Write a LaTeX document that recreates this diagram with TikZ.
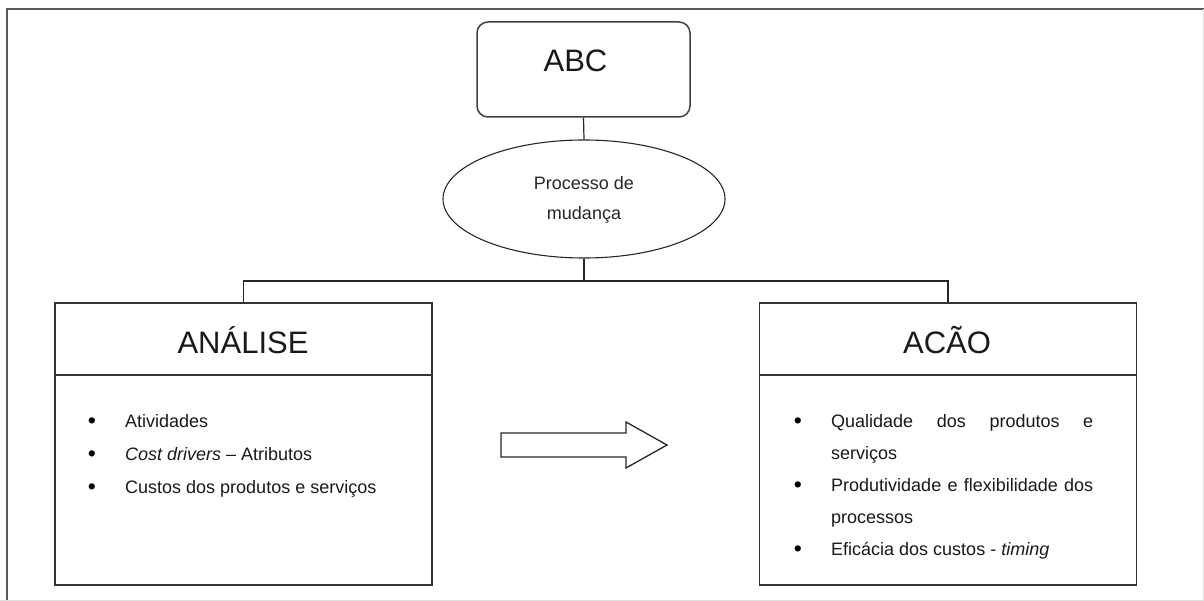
\documentclass[tikz,border=0pt]{standalone}
\usepackage{fontspec}
\setmainfont{Liberation Sans}
\usetikzlibrary{shapes.geometric}
\begin{document}
\begin{tikzpicture}[x=1pt,y=-1pt,
  box/.style={draw=black!80,line width=1.6pt,minimum width=377pt,minimum height=282pt,inner sep=0pt},
  conn/.style={draw=black!85,line width=1.2pt},
  item/.style={anchor=base west,inner sep=0pt,font=\fontsize{18}{22}\selectfont,text=black!90},
  bul/.style={anchor=base,inner sep=0pt,font=\fontsize{23}{22}\selectfont},
  title/.style={anchor=base,inner sep=0pt,font=\fontsize{31}{36}\selectfont,text=black!90}]
\useasboundingbox (0,0) rectangle (1204,601);
% outer frame
\draw[black!65,line width=2.2pt] (7,601) -- (7,9) -- (1204,9);
\draw[black!12,line width=1pt] (0,600) -- (1204,600);
\draw[black!12,line width=1pt] (1203,9) -- (1203,600);
% ABC
\node[draw=black!75,line width=1.5pt,rounded corners=11pt,minimum width=213pt,minimum height=95pt,inner sep=0pt] (abc) at (583.5,69.5) {};
\node[title] (abct) at (575.5,72) {ABC};
% ellipse
\node[draw=black!85,line width=1.1pt,ellipse,minimum width=282pt,minimum height=118pt,inner sep=0pt] (proc) at (584,199) {};
\node[anchor=base,inner sep=0pt,font=\fontsize{18}{30}\selectfont,align=center,text=black!85] (proct) at (584,220) {Processo de\\mudança};
% boxes
\node[box] (analise) at (243.5,444) {};
\node[box] (acao) at (948,444) {};
\draw[black!80,line width=1.6pt] (analise.west |- 0,375) -- (analise.east |- 0,375);
\draw[black!80,line width=1.6pt] (acao.west |- 0,375) -- (acao.east |- 0,375);
\node[title] (analiset) at (243,353) {ANÁLISE};
\node[title] (acaot) at (947,353) {ACÃO};
% connectors
\coordinate (hb) at (584,281);
\draw[conn] (abc.south) -- (proc.north);
\draw[conn] (proc.south) -- (hb);
\draw[conn] (analise.north) |- (hb) -| (acao.north);
% left items
\node[bul] (lb1) at (92,428) {•};
\node[bul] (lb2) at (92,461) {•};
\node[bul] (lb3) at (92,494) {•};
\node[item] (l1) at (125,427) {Atividades};
\node[item] (l2) at (125,460) {\textit{Cost drivers} – Atributos};
\node[item] (l3) at (125,493) {Custos dos produtos e serviços};
% right items
\node[bul] (rb1) at (798,428) {•};
\node[bul] (rb2) at (798,492) {•};
\node[bul] (rb3) at (798,556) {•};
\node[item] (r1) at (831,427) {\makebox[262pt][s]{Qualidade\hfill dos\hfill produtos\hfill e}};
\node[item] (r1b) at (831,459) {serviços};
\node[item] (r2) at (831,491) {\makebox[262pt][s]{Produtividade\hfill e\hfill flexibilidade\hfill dos}};
\node[item] (r2b) at (831,523) {processos};
\node[item] (r3) at (831,555) {Eficácia dos custos - \textit{timing}};
% block arrow
\draw[black!85,line width=1.3pt,line join=miter] (501,433) -- (626,433) -- (626,422) -- (667,445) -- (626,468) -- (626,457) -- (501,457) -- cycle;
\end{tikzpicture}
\end{document}
